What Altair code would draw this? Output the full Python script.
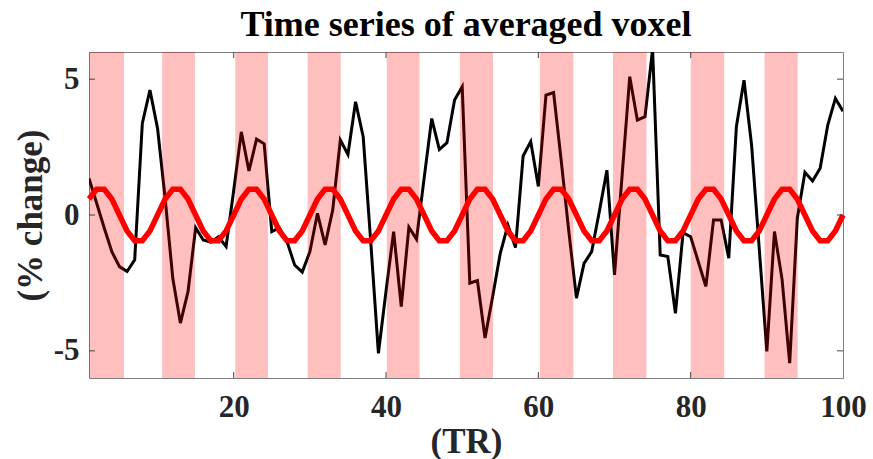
import altair as alt
import pandas as pd

# ---- data ----
tr = list(range(1, 101))

signal = [
    1.35, 0.44, -0.48, -1.35, -1.90, -2.08, -1.65, 3.37, 4.60, 3.19,
    0.60, -2.33, -3.98, -2.82, -0.47, -0.92, -1.00, -0.80, -1.16, 0.90,
    3.06, 1.62, 2.79, 2.62, -0.61, -0.47, -0.98, -1.84, -2.10, -1.35,
    0.06, -1.10, 0.18, 2.76, 2.23, 4.17, 2.88, -1.02, -5.09, -2.80,
    -0.61, -3.37, -0.45, -0.89, 1.35, 3.55, 2.41, 2.66, 4.23, 4.72,
    -2.51, -2.41, -4.53, -3.00, -1.41, -0.37, -1.20, 2.17, 2.70, 1.05,
    4.41, 4.51, 2.00, -0.60, -3.06, -1.78, -1.35, 0.12, 1.65, -2.20,
    1.47, 5.09, 3.49, 3.62, 6.10, -1.47, -1.53, -3.62, -0.65, -0.80,
    -1.72, -2.63, -0.18, -0.18, -1.59, 3.25, 4.96, 2.57, -1.23, -5.02,
    -0.61, -2.37, -5.45, -0.12, 1.57, 1.25, 1.72, 3.31, 4.29, 3.82,
]

model = [
    0.59, 0.95, 0.95, 0.59, 0.00, -0.59, -0.95, -0.95, -0.59, 0.00,
    0.59, 0.95, 0.95, 0.59, 0.00, -0.59, -0.95, -0.95, -0.59, 0.00,
    0.59, 0.95, 0.95, 0.59, 0.00, -0.59, -0.95, -0.95, -0.59, 0.00,
    0.59, 0.95, 0.95, 0.59, 0.00, -0.59, -0.95, -0.95, -0.59, 0.00,
    0.59, 0.95, 0.95, 0.59, 0.00, -0.59, -0.95, -0.95, -0.59, 0.00,
    0.59, 0.95, 0.95, 0.59, 0.00, -0.59, -0.95, -0.95, -0.59, 0.00,
    0.59, 0.95, 0.95, 0.59, 0.00, -0.59, -0.95, -0.95, -0.59, 0.00,
    0.59, 0.95, 0.95, 0.59, 0.00, -0.59, -0.95, -0.95, -0.59, 0.00,
    0.59, 0.95, 0.95, 0.59, 0.00, -0.59, -0.95, -0.95, -0.59, 0.00,
    0.59, 0.95, 0.95, 0.59, 0.00, -0.59, -0.95, -0.95, -0.59, 0.00,
]

block_start = [1.0, 10.6, 20.2, 29.7, 40.1, 49.7, 60.2, 69.8, 80.0, 89.7]
block_end = [5.6, 14.9, 24.5, 34.05, 44.4, 54.05, 64.6, 74.2, 84.4, 94.05]

x_ticks = [20, 40, 60, 80, 100]
x_inner_ticks = [20, 40, 60, 80]
y_ticks = [-5, 0, 5]

FONT = "Liberation Serif"
W, H = 754, 326
TICK = 6
FRAME = "#7f7f7f"
TICKCOL = "#404040"

df = pd.DataFrame({"TR": tr, "signal": signal, "model": model})
blocks = pd.DataFrame({"start": block_start, "end": block_end})
xt_df = pd.DataFrame({"v": x_inner_ticks})
yt_df = pd.DataFrame({"v": y_ticks})

xscale = alt.Scale(domain=[1, 100], nice=False, zero=False)
yscale = alt.Scale(domain=[-6, 6], nice=False, zero=False)

x_axis = alt.Axis(values=x_ticks, labelExpr="'' + datum.value",
                  labelPadding=14, titlePadding=2, labelFlush=False)
y_axis = alt.Axis(values=y_ticks, labelExpr="'' + datum.value",
                  labelPadding=10, titlePadding=5, labelFlush=False)
X_TITLE = "(TR)"
Y_TITLE = "(% change)"

signal_line = alt.Chart(df).mark_line(color="black", strokeWidth=3, clip=True).encode(
    x=alt.X("TR:Q", scale=xscale, title=X_TITLE, axis=x_axis),
    y=alt.Y("signal:Q", scale=yscale, title=Y_TITLE, axis=y_axis),
)

bands = alt.Chart(blocks).mark_rect(color="#ff0000", opacity=0.25).encode(
    x=alt.X("start:Q", scale=xscale, title=X_TITLE, axis=x_axis),
    x2="end:Q",
    y=alt.value(0),
    y2=alt.value(H),
)

model_line = alt.Chart(df).mark_line(color="#ff0000", strokeWidth=5.5).encode(
    x=alt.X("TR:Q", scale=xscale, title=X_TITLE, axis=x_axis),
    y=alt.Y("model:Q", scale=yscale, title=Y_TITLE, axis=y_axis),
)

xt_bottom = alt.Chart(xt_df).mark_rule(color=TICKCOL, strokeWidth=1).encode(
    x=alt.X("v:Q", scale=xscale, title=X_TITLE, axis=x_axis),
    y=alt.value(H - TICK), y2=alt.value(H))
xt_top = alt.Chart(xt_df).mark_rule(color=TICKCOL, strokeWidth=1).encode(
    x=alt.X("v:Q", scale=xscale, title=X_TITLE, axis=x_axis),
    y=alt.value(0), y2=alt.value(TICK))
yt_left = alt.Chart(yt_df).mark_rule(color=TICKCOL, strokeWidth=1).encode(
    y=alt.Y("v:Q", scale=yscale, title=Y_TITLE, axis=y_axis),
    x=alt.value(0), x2=alt.value(TICK))
yt_right = alt.Chart(yt_df).mark_rule(color=TICKCOL, strokeWidth=1).encode(
    y=alt.Y("v:Q", scale=yscale, title=Y_TITLE, axis=y_axis),
    x=alt.value(W - TICK), x2=alt.value(W))

chart = alt.layer(
    signal_line, bands, model_line, xt_bottom, xt_top, yt_left, yt_right
).properties(
    width=W,
    height=H,
    background="white",
    autosize=alt.AutoSizeParams(type="none"),
    padding={"left": 89, "top": 52, "right": 30, "bottom": 81},
    title=alt.TitleParams(
        "Time series of averaged voxel",
        font=FONT, fontSize=36, fontWeight="bold", color="black",
        anchor="middle", offset=8,
    ),
).configure_axis(
    labelFont=FONT, labelFontWeight="bold", labelFontSize=31, labelColor="#262626",
    titleFont=FONT, titleFontWeight="bold", titleFontSize=35, titleColor="#262626",
    grid=False, ticks=False, domain=False,
).configure_view(
    stroke=FRAME, strokeWidth=1,
)

chart.save("out.html", embed_options={"renderer": "svg", "actions": False})
